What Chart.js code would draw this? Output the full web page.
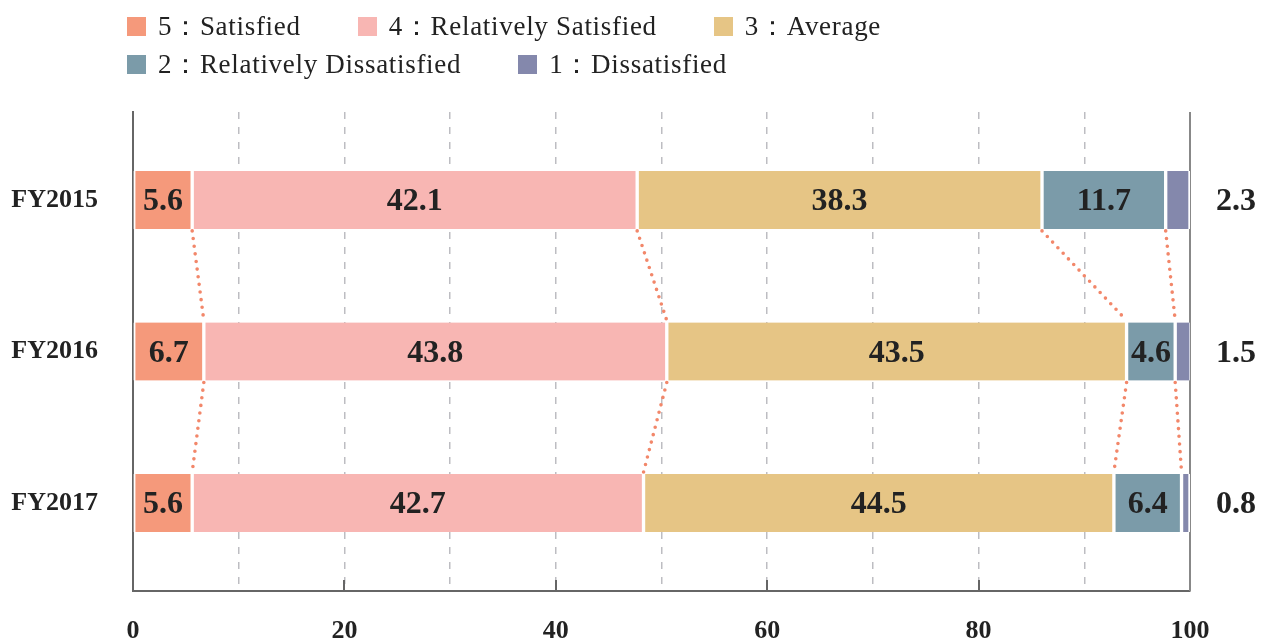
<!DOCTYPE html>
<html>
<head>
<meta charset="utf-8">
<script src="https://cdn.jsdelivr.net/npm/chart.js@4"></script>
<style>
    html, body { margin: 0; padding: 0; background: #fff; }
    #wrap { position: relative; width: 1271px; height: 644px; }
    #legend {
        position: absolute; left: 127px; top: 7px;
        font-family: "Liberation Serif", serif; font-size: 27px;
        letter-spacing: 0.7px; color: #222;
    }
    #legend .row { display: flex; height: 38px; align-items: center; }
    #legend .item { display: flex; align-items: center; margin-right: 57px; white-space: nowrap; }
    #legend .swatch { width: 19px; height: 19px; margin-right: 12px; }
</style>
</head>
<body>
<div id="wrap">
    <canvas id="chart" width="1271" height="644"></canvas>
    <div id="legend"></div>
</div>
<script>
const years = ["FY2015", "FY2016", "FY2017"];
const seriesNames = ["5：Satisfied", "4：Relatively Satisfied", "3：Average", "2：Relatively Dissatisfied", "1：Dissatisfied"];
const seriesColors = ["#F5997B", "#F8B6B3", "#E6C585", "#7B9BA9", "#8488AC"];

const satisfied = [5.6, 6.7, 5.6];
const relSatisfied = [42.1, 43.8, 42.7];
const average = [38.3, 43.5, 44.5];
const relDissatisfied = [11.7, 4.6, 6.4];
const dissatisfied = [2.3, 1.5, 0.8];

const series = [satisfied, relSatisfied, average, relDissatisfied, dissatisfied];
const xTicks = [0, 20, 40, 60, 80, 100];

const serif = "'Liberation Serif', serif";
const dotColor = "#F2876A";
const yMin = -0.58, yMax = 2.58;

// html legend, two rows like the source
const legendRows = [[0, 1, 2], [3, 4]];
const legendEl = document.getElementById("legend");
legendRows.forEach(row => {
    const r = document.createElement("div");
    r.className = "row";
    row.forEach(i => {
        const it = document.createElement("div");
        it.className = "item";
        it.innerHTML = `<span class="swatch" style="background:${seriesColors[i]}"></span><span>${seriesNames[i]}</span>`;
        r.appendChild(it);
    });
    legendEl.appendChild(r);
});

const segmentLabels = {
    id: "segmentLabels",
    afterDatasetsDraw(chart) {
        const { ctx, scales: { x } } = chart;
        ctx.save();
        ctx.fillStyle = "#222";
        ctx.font = `bold 32px ${serif}`;
        ctx.textAlign = "center";
        ctx.textBaseline = "middle";
        chart.data.datasets.forEach((ds, di) => {
            const meta = chart.getDatasetMeta(di);
            meta.data.forEach((bar, i) => {
                const txt = series[di][i].toFixed(1);
                if (di === series.length - 1) {
                    ctx.fillText(txt, x.right + 46, bar.y + 2);
                } else {
                    ctx.fillText(txt, (bar.base + bar.x) / 2, bar.y + 2);
                }
            });
        });
        ctx.restore();
    }
};

const connectors = {
    id: "connectors",
    afterDatasetsDraw(chart) {
        const { ctx } = chart;
        ctx.save();
        ctx.strokeStyle = dotColor;
        ctx.lineWidth = 3.6;
        ctx.lineCap = "round";
        ctx.setLineDash([0, 7.7]);
        for (let k = 0; k < series.length - 1; k++) {
            const meta = chart.getDatasetMeta(k);
            for (let i = 0; i < years.length - 1; i++) {
                const a = meta.data[i], b = meta.data[i + 1];
                ctx.beginPath();
                ctx.moveTo(a.x, a.y + a.height / 2 + 2);
                ctx.lineTo(b.x, b.y - b.height / 2 - 2);
                ctx.stroke();
            }
        }
        ctx.restore();
    }
};

const frame = {
    id: "frame",
    beforeDatasetsDraw(chart) {
        const { ctx, chartArea: ca, scales: { x } } = chart;
        ctx.save();
        // solid short ticks at labelled values
        ctx.strokeStyle = "#666";
        ctx.lineWidth = 2;
        xTicks.slice(1, -1).forEach(v => {
            const px = Math.round(x.getPixelForValue(v));
            ctx.beginPath();
            ctx.moveTo(px, ca.bottom);
            ctx.lineTo(px, ca.bottom - 11);
            ctx.stroke();
        });
        // right frame line
        const rx = x.getPixelForValue(100);
        ctx.strokeStyle = "#888";
        ctx.beginPath();
        ctx.moveTo(rx, ca.top);
        ctx.lineTo(rx, ca.bottom);
        ctx.stroke();
        ctx.restore();
    }
};

new Chart(document.getElementById("chart"), {
    type: "bar",
    data: {
        datasets: series.map((vals, si) => ({
            label: seriesNames[si],
            data: vals.map((v, i) => ({ x: v, y: i })),
            backgroundColor: seriesColors[si],
            borderColor: "#fff",
            borderWidth: { left: 2, right: 2, top: 0, bottom: 0 },
            borderSkipped: false,
            barThickness: 58,
        }))
    },
    options: {
        indexAxis: "y",
        responsive: false,
        animation: false,
        layout: { padding: { top: 112, right: 81, left: 0, bottom: 0 } },
        plugins: {
            legend: { display: false },
            tooltip: { enabled: false },
        },
        scales: {
            x: {
                type: "linear",
                stacked: true,
                min: 0,
                max: 100,
                afterFit: (axis) => { axis.height = 53; },
                grid: {
                    drawTicks: false,
                    lineWidth: 1.5,
                    color: (c) => (c.tick && (c.tick.value === 0 || c.tick.value === 100)) ? "rgba(0,0,0,0)" : "#BDBDC2",
                },
                border: { display: true, color: "#666", width: 2, dash: [7, 8] },
                ticks: {
                    stepSize: 10,
                    autoSkip: false,
                    maxRotation: 0,
                    padding: 25,
                    color: "#222",
                    font: { family: serif, size: 26, weight: "bold" },
                    callback: (v) => xTicks.includes(v) ? String(v) : "",
                },
            },
            y: {
                type: "linear",
                stacked: true,
                reverse: true,
                offset: false,
                min: yMin,
                max: yMax,
                afterBuildTicks: (axis) => {
                    axis.ticks = years.map((_, i) => ({ value: i }));
                    axis.min = yMin;
                    axis.max = yMax;
                },
                afterFit: (axis) => { axis.width = 133; },
                grid: { display: false, drawTicks: false, offset: false },
                border: { display: true, color: "#666", width: 2 },
                ticks: {
                    autoSkip: false,
                    padding: 35,
                    color: "#222",
                    font: { family: serif, size: 26, weight: "bold" },
                    callback: (v) => years[v] ?? "",
                },
            },
        },
    },
    plugins: [frame, connectors, segmentLabels],
});
</script>
</body>
</html>
